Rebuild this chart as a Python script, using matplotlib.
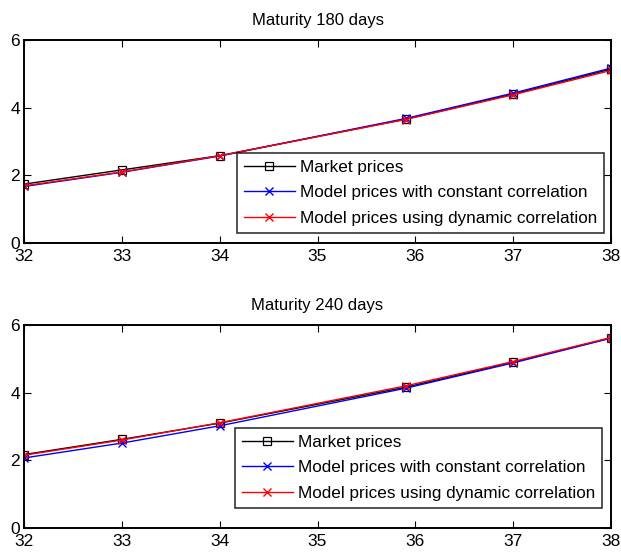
import numpy as np
import matplotlib.pyplot as plt

plt.rcParams['font.family'] = ['Liberation Sans', 'DejaVu Sans']

# Strikes and option prices for the two maturities
strikes = [32, 33, 34, 35.9, 37, 38]

market_180 = [1.74, 2.16, 2.58, 3.66, 4.40, 5.14]
const_180 = [1.67, 2.09, 2.57, 3.68, 4.43, 5.17]
dyn_180 = [1.69, 2.10, 2.58, 3.65, 4.38, 5.10]

market_240 = [2.17, 2.62, 3.10, 4.16, 4.90, 5.62]
const_240 = [2.07, 2.51, 3.02, 4.13, 4.88, 5.61]
dyn_240 = [2.15, 2.60, 3.11, 4.20, 4.92, 5.63]

titles = ['Maturity 180 days', 'Maturity 240 days']
labels = ['Market prices', 'Model prices with constant correlation',
          'Model prices using dynamic correlation']

fig = plt.figure(figsize=(6.21, 5.54), dpi=100)
W, H = 621, 554
boxes = [(24, 40, 611, 243), (24, 325, 611, 528)]
legend_boxes = [(237, 153), (235, 428)]
series = [(market_180, const_180, dyn_180), (market_240, const_240, dyn_240)]

for (x0, y0, x1, y1), title, (mk, cc, dc), (lx, ly) in zip(boxes, titles, series, legend_boxes):
    ax = fig.add_axes([x0 / W, 1 - y1 / H, (x1 - x0) / W, (y1 - y0) / H])
    ax.plot(strikes, mk, color='black', marker='s', markersize=6,
            markerfacecolor='none', markeredgewidth=0.9, linewidth=1, label=labels[0])
    ax.plot(strikes, cc, color='blue', marker='x', markersize=5.5,
            markeredgewidth=1, linewidth=1, label=labels[1])
    ax.plot(strikes, dc, color='red', marker='x', markersize=5.5,
            markeredgewidth=1, linewidth=1, label=labels[2])
    ax.set_xlim(32, 38)
    ax.set_ylim(0, 6)
    ax.set_xticks(range(32, 39))
    ax.set_yticks([0, 2, 4, 6])
    ax.tick_params(direction='in', top=True, right=True, length=5,
                   labelsize=12.5, width=0.8)
    ax.tick_params(axis='x', pad=4.5)
    ax.tick_params(axis='y', pad=3)
    for s in ax.spines.values():
        s.set_linewidth(1.4)
    ax.set_title(title, fontsize=12, pad=11)
    leg = ax.legend(loc='upper left', bbox_to_anchor=((lx - x0) / (x1 - x0), 1 - (ly - y0) / (y1 - y0)),
                    fontsize=12.3, frameon=True, fancybox=False, edgecolor='black',
                    borderpad=0.4, labelspacing=0.62, handlelength=3.0,
                    handletextpad=0.3, borderaxespad=0)
    leg.get_frame().set_linewidth(1.2)

fig.savefig('out.png', dpi=100)
